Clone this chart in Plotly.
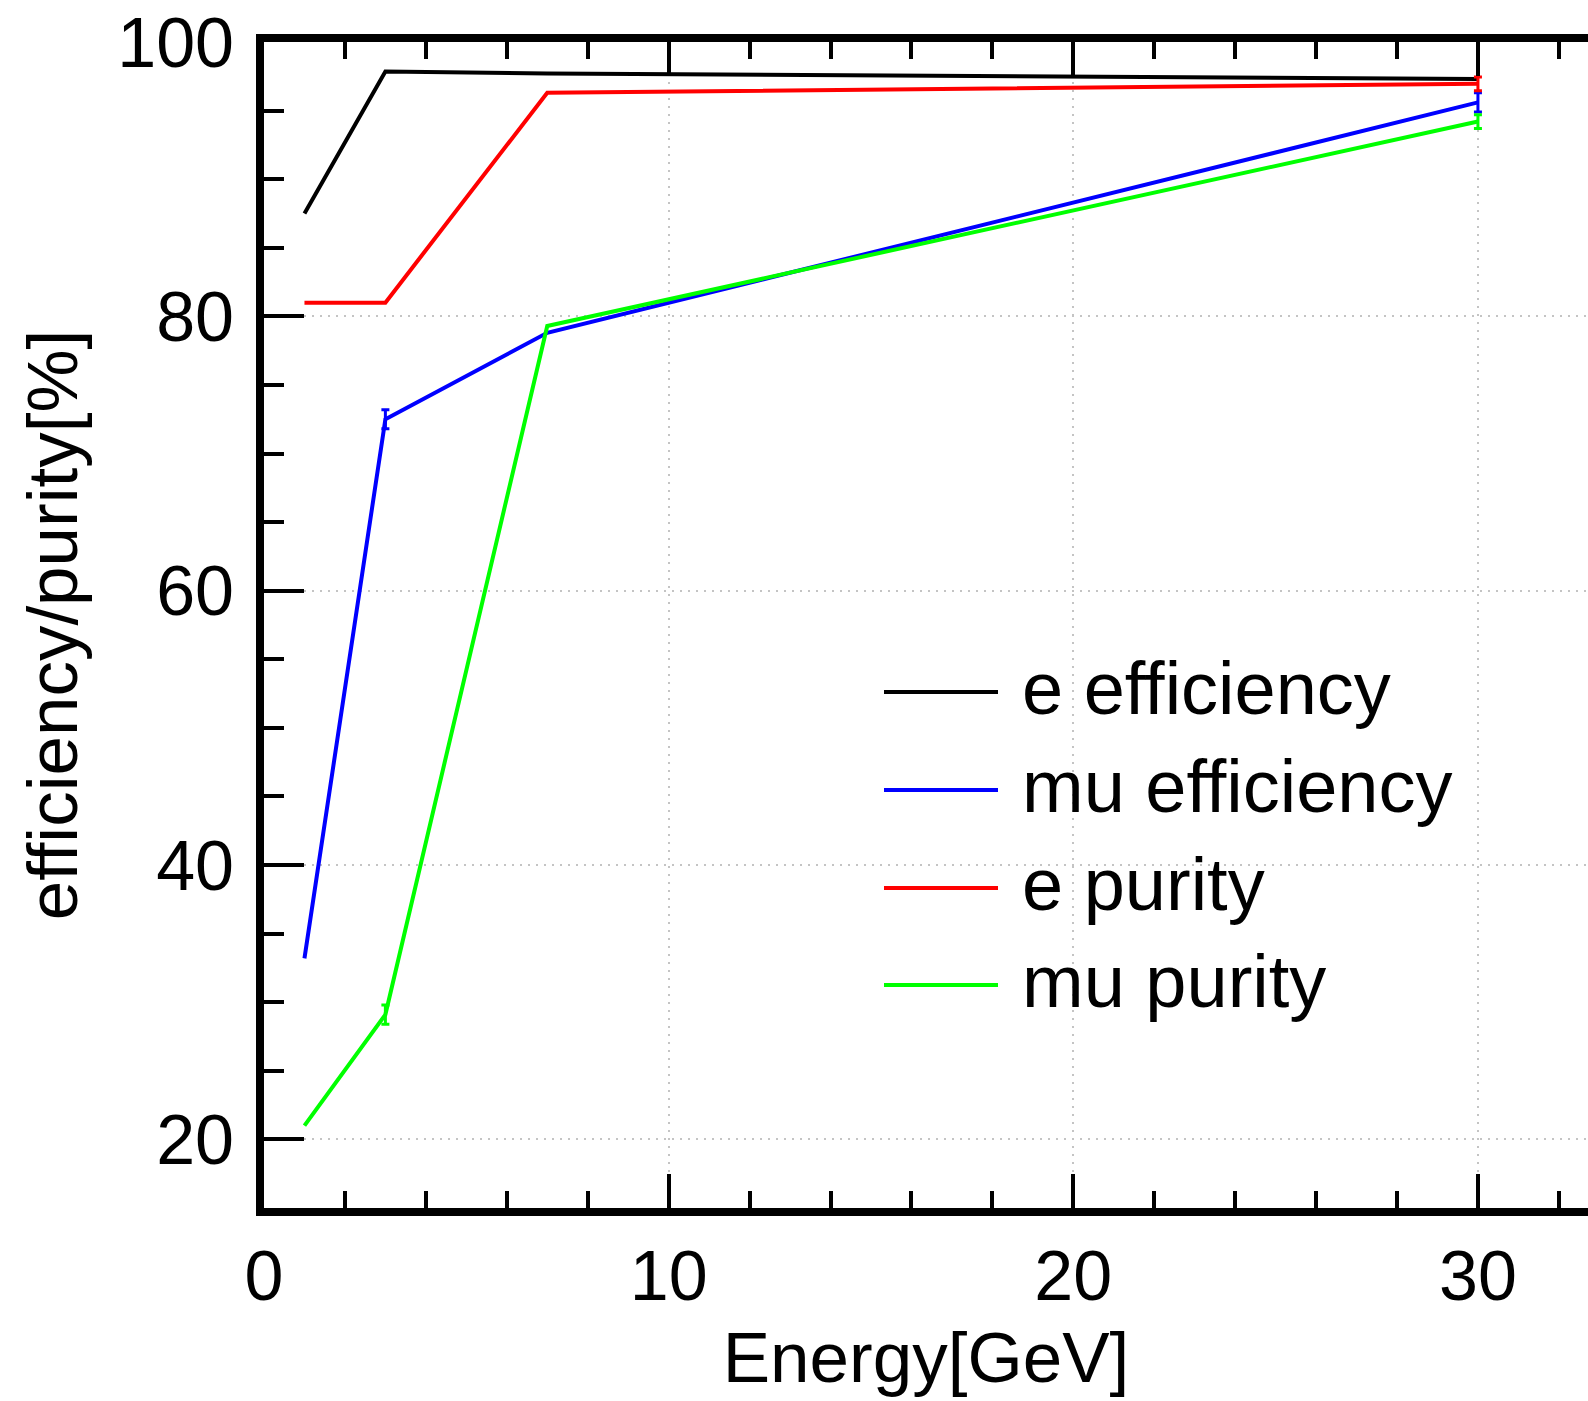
import plotly.graph_objects as go

# ---- data ----
energy = [1, 3, 7, 30]
e_efficiency = [87.5, 97.85, 97.7, 97.3]
mu_efficiency = [33.2, 72.5, 78.8, 95.6]
e_purity = [81.0, 81.0, 96.3, 96.95]
mu_purity = [21.0, 29.1, 79.3, 94.2]

# None = error too small to be visible in the reference
e_efficiency_err = [None, None, None, None]
mu_efficiency_err = [None, 0.7, None, 0.7]
e_purity_err = [None, None, None, 0.5]
mu_purity_err = [None, 0.7, None, 0.5]

series_names = ["e efficiency", "mu efficiency", "e purity", "mu purity"]
series_colors = ["#000000", "#0000ff", "#ff0000", "#00ff00"]
series_values = [e_efficiency, mu_efficiency, e_purity, mu_purity]
series_errors = [e_efficiency_err, mu_efficiency_err, e_purity_err, mu_purity_err]

x_range = [0, 32.72]
y_range = [15, 100]
x_ticks = [0, 10, 20, 30]
y_ticks = [20, 40, 60, 80, 100]

FONT = "Liberation Sans, Arial, Helvetica, sans-serif"
W, H = 1588, 1401
ML, MR, MT, MB = 264, 0, 42, 193

fig = go.Figure()
for name, color, vals, errs in zip(series_names, series_colors, series_values, series_errors):
    fig.add_trace(go.Scatter(
        x=energy, y=vals, mode="lines", name=name,
        line=dict(color=color, width=4),
        showlegend=False,
    ))
    # error bars only where they are visible
    idx = [i for i, e in enumerate(errs) if e is not None]
    if idx:
        fig.add_trace(go.Scatter(
            x=[energy[i] for i in idx], y=[vals[i] for i in idx],
            mode="markers", marker=dict(size=1, color=color, opacity=0),
            error_y=dict(type="data", array=[errs[i] for i in idx], visible=True,
                         color=color, thickness=3, width=4),
            showlegend=False, hoverinfo="skip",
        ))

grid_kw = dict(showgrid=True, gridcolor="#c4c4c4", gridwidth=2, griddash="2px,6px")

fig.update_layout(
    width=W, height=H,
    margin=dict(l=ML, r=MR, t=MT, b=MB, pad=0),
    paper_bgcolor="white", plot_bgcolor="white",
    font=dict(family=FONT, color="black"),
    showlegend=False,
    xaxis=dict(
        range=x_range, tickvals=x_ticks, ticktext=[str(v) for v in x_ticks],
        ticks="inside", ticklen=34, tickwidth=4, tickcolor="black",
        showline=True, linewidth=8, linecolor="black", mirror="ticks",
        zeroline=False,
        minor=dict(dtick=2, tick0=0, ticks="inside", ticklen=17, tickwidth=4,
                   tickcolor="black", showgrid=False),
        tickfont=dict(size=70, family=FONT, color="black"),
        ticklabelstandoff=0,
        title=dict(text="Energy[GeV]", font=dict(size=71, family=FONT, color="black"),
                   standoff=21),
        **grid_kw,
    ),
    yaxis=dict(
        range=y_range, tickvals=y_ticks, ticktext=[str(v) for v in y_ticks],
        ticks="inside", ticklen=40, tickwidth=4, tickcolor="black",
        showline=True, linewidth=8, linecolor="black", mirror=False,
        zeroline=False,
        minor=dict(dtick=5, tick0=0, ticks="inside", ticklen=20, tickwidth=4,
                   tickcolor="black", showgrid=False),
        tickfont=dict(size=70, family=FONT, color="black"),
        ticklabelstandoff=8,
        title=dict(text="efficiency/purity[%]", font=dict(size=71, family=FONT, color="black"),
                   standoff=19),
        **grid_kw,
    ),
    yaxis2=dict(
        range=y_range, overlaying="y", side="right", anchor="x",
        tickvals=y_ticks, showticklabels=False,
        ticks="inside", ticklen=31, tickwidth=4, tickcolor="black",
        showline=False, showgrid=False, zeroline=False,
        minor=dict(dtick=5, tick0=0, ticks="inside", ticklen=11, tickwidth=4,
                   tickcolor="black", showgrid=False),
    ),
)

# custom legend (long line keys like the reference)
plot_w = W - ML - MR
plot_h = H - MT - MB
leg_line_x0, leg_line_x1, leg_text_x = 884, 998, 1020
leg_rows_y = [692, 790, 888, 985]
leg_text_dy = -4

def px_to_paper_x(px):
    return (px - ML) / plot_w

def px_to_paper_y(py):
    return (H - MB - py) / plot_h

for name, color, ry in zip(series_names, series_colors, leg_rows_y):
    fig.add_shape(type="line", xref="paper", yref="paper",
                  x0=px_to_paper_x(leg_line_x0), x1=px_to_paper_x(leg_line_x1),
                  y0=px_to_paper_y(ry), y1=px_to_paper_y(ry),
                  line=dict(color=color, width=4))
    fig.add_annotation(xref="paper", yref="paper",
                       x=px_to_paper_x(leg_text_x), y=px_to_paper_y(ry + leg_text_dy),
                       xanchor="left", yanchor="middle", showarrow=False,
                       text=name, font=dict(size=74, family=FONT, color="black"))

fig.write_html("out.html")
